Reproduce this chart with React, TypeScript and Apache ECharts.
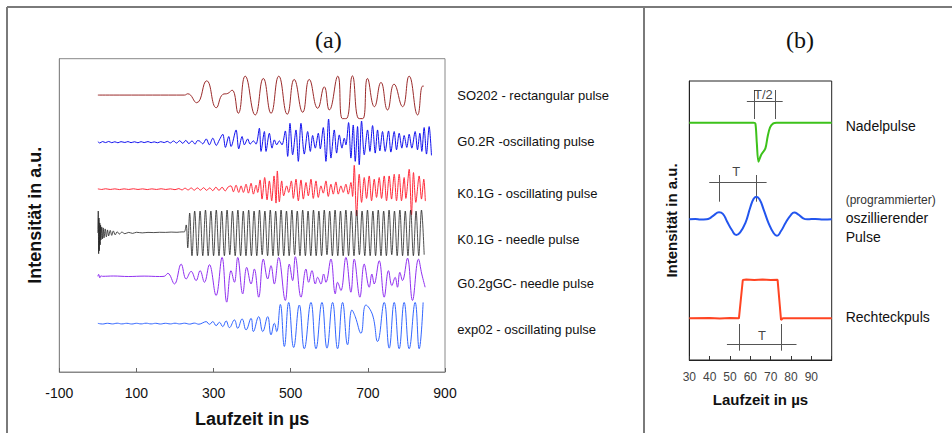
import React, { useEffect, useRef } from "react";
import * as echarts from "echarts";

// ---------- Panel (a) ----------
const traceNamesA = [
  "SO202 - rectangular pulse",
  "G0.2R -oscillating pulse",
  "K0.1G - oscillating pulse",
  "K0.1G - needle pulse",
  "G0.2gGC- needle pulse",
  "exp02 - oscillating pulse",
];
const baselinesA = [278.7, 231.3, 184, 140, 96.3, 48.7];
const colorsA = ["#9a2a2a", "#1010ee", "#ff2a3a", "#222222", "#9030f0", "#3366ff"];
const widthsA = [1, 1, 1, 0.8, 1, 1];

const so202 = [[0,0],[224.5,0],[233,1.3],[256,-7.7],[282,14.3],[307,-12.7],[324,0.7],[337,1.7],[348,5],[364,-18.3],[382,19],[408,-20],[429,16.7],[449,-18.3],[469,19],[491,-19.3],[509,15.7],[531,-17.3],[548,15.7],[570,-13.3],[587,8.3],[600,-15],[622,19],[634,-23.7],[644,-23.7],[660,19.3],[677,-23.7],[687,-23.7],[699,16.7],[717,-11.7],[734,12.7],[751,-15],[768,11],[790,-11.7],[807,19],[829,-20],[842,9],[845,9]];

const g02r = [[0,0.5],[5,-0.8],[12,0.6],[20,-0.4],[28,0.7],[36,-0.5],[44,0.4],[52,-0.6],[60,0.5],[70,-0.3],[78,0.6],[86,-0.5],[95,0.4],[104,-0.6],[112,0.5],[120,-0.4],[130,0.6],[138,-0.5],[146,0.3],[155,-0.6],[163,0.5],[172,-0.4],[180,0.8],[188,-0.8],[196,1.2],[204,-0.9],[212,1.5],[220,-1.2],[228,1.8],[236,-1.5],[244,1.3],[252,-2],[258,1.5],
[263,1.3],[272,-1.7],[281,3.3],[289,-2.7],[298,4],[307,-3.3],[315,2.3],
[323.8,8],[330.7,-5.3],[339.3,5.7],[345.4,-4.3],[358.3,12.3],[365.2,-6.7],[373.9,5.7],[379.9,-2.7],[388.5,3.3],[394.6,-2],[403.2,1.3],[410.1,-2],[418.7,14],[423,-9.3],[431.7,10.7],[436,-9.3],[444.6,9],[451.5,-6],[457.6,2.3],[463.6,-2.7],[470.5,1.3],[477.4,-2.7],[486,11.3],[492.1,-14.3],[498.1,19],[505,-12.7],[513.7,12.3],[519.7,-19.3],[526.6,19],[535.2,-12],[543.9,10.7],[550.8,-9.3],[556.8,6.7],[563.7,-6],[571.5,9],[576.7,-6.7],[584.4,14.7],[591.3,-19.3],[598.2,23.3],[604.3,-16],[612.9,12.3],[619,-11],[625.9,7.3],[632.8,-6],[638.8,4],[643.1,-2.7],[650,19.7],[656,-16],[662.1,17.3],[667.3,-19.3],[673.3,15.7],[677.6,-22.7],[683.7,21.3],[690.6,-12.7],[699.2,12.3],[705.3,-9.3],[712.2,16.7],[719.1,-11],[725.1,12.3],[731.1,-8.7],[738,10.7],[744.9,-9.3],[753.6,11.3],[759.6,-10],[768.3,10.7],[774.3,-7.7],[781.2,9],[788.1,-6],[794.1,6.7],[801,-5.3],[807.1,8],[814,-6],[822.6,10.7],[828.7,-7.7],[834.7,9],[839.9,-9.3],[845.9,14.7],[852,-12],[858.9,15.7],[864.9,-13.3]];

const k01gOsc = [[0,0.3],[10,-0.3],[20,0.4],[32,-0.3],[44,0.3],[56,-0.4],[68,0.3],[80,-0.3],[92,0.4],[104,-0.3],[116,0.3],[128,-0.4],[140,0.3],[152,-0.3],[164,0.4],[176,-0.3],[188,0.3],[200,-0.5],[210,0.6],[218,-0.8],[226,1],[234,-0.8],[242,1.2],[250,-1],[258,1.3],[266,-1],[274,1.5],[282,-1.2],[290,1.3],[298,-1.5],[306,2],[314,-1.3],[322,2],[330,-1.8],[338,2.3],
[345.4,3.3],[351.4,-2.7],[358.3,4],[365.2,-3.3],[371.3,3.3],[377.3,-3.3],[384.2,5],[390.3,-4],[397.2,6],[403.2,-5],[410.1,4],[414.4,-3.3],[420.5,9.3],[425.6,-10],[432.5,11.7],[438.6,-10.7],[444.6,8.3],[450.7,-11.7],[456.7,13.3],[461.9,-14],[465.3,18.3],[470.5,-12.7],[476.6,8.3],[481.7,-6.7],[489.5,3.3],[494.7,-3.3],[501.6,8.3],[506.8,-9.3],[513.7,10],[519.7,-11.7],[526.6,9.3],[532.7,-10],[539.6,6.7],[545.6,-6.7],[552.5,10],[558.5,-9.3],[565.5,8.3],[571.5,-8.3],[578.4,3.3],[584.4,-4],[591.3,8.3],[597.4,-7.3],[604.3,5],[610.3,-5],[617.2,7.3],[623.3,-5],[630.2,3.3],[636.2,-3.3],[643.1,5],[649.2,-5],[656.1,6.7],[660.4,-7.3],[664.7,24],[670.7,-27],[677.6,15],[683.7,-13.3],[690.6,11.7],[696.6,-9.3],[703.5,13.3],[709.6,-11.7],[716.5,10],[722.5,-8.3],[729.4,11.7],[735.5,-9.3],[742.4,13.3],[748.4,-11.7],[755.3,13.3],[761.4,-10],[768.3,15],[774.3,-11.7],[781.2,15],[787.2,-11.7],[794.1,11.7],[798.5,-9.3],[807.1,20],[813.1,-26],[818.3,16.7],[824.4,-13.3],[833,13.3],[839,-10],[845,10],[849,-12]];

const k01gNeedle = [[0,0],[1,22],[2,-21],[3,15],[4,-18],[5,10],[6,-12],[7,8],[8,-7],[10,6],[12,-6],[14,5],[16,-5],[19,4],[22,-4],[25,3],[28,-3],[32,2.5],[36,-2.5],[40,2],[45,-2],[50,1.2],[56,-1.2],[62,0.8],[70,-0.8],[80,0.5],[90,-0.5],[100,0.6],[115,0],[130,0.5],[145,0.3],[160,0.6],[175,0.5],[190,0.8],[205,0.6],[218,1],[224,1],
[229,8],[233,-15],[238,20],[244,-23],[251,22],[258,-23],[265,22],[272,-23],[279,23],[286,-23],[293,22],[300,-23],[307,23],[314,-23],[321,22],[328,-23],[335,23],[342,-22],[349,22],[356,-23],[363,23],[370,-23],[377,22],[384,-23],[391,23],[398,-23],[405,22],[412,-23],[419,23],[426,-22],[433,22],[440,-23],[447,23],[454,-23],[461,22],[468,-23],[475,23],[482,-23],[489,22],[496,-23],[503,23],[510,-22],[517,22],[524,-23],[531,23],[538,-23],[545,22],[552,-23],[559,23],[566,-23],[573,22],[580,-23],[587,23],[594,-22],[601,22],[608,-23],[615,23],[622,-23],[629,22],[636,-23],[643,23],[650,-23],[657,22],[664,-23],[671,23],[678,-22],[685,22],[692,-23],[699,23],[706,-23],[713,22],[720,-23],[727,23],[734,-23],[741,22],[748,-23],[755,23],[762,-22],[769,22],[776,-23],[783,23],[790,-23],[797,22],[804,-23],[811,23],[818,-23],[825,22],[832,-23],[839,23],[846,-22]];

const g02ggc = [[0,0],[2,2],[5,-1.5],[8,0.5],[12,0],[40,0.3],[80,-0.2],[120,0.2],[160,-0.2],[172,0],[181.4,3],[198.6,-7.7],[215.9,12.3],[228.8,-2.7],[241.8,5],[254.7,-4.3],[265.1,5.7],[276.3,-6],[289.2,11.7],[306.5,-19.3],[322,19],[334.1,-26],[345.3,5.7],[354,-6],[362.6,19],[375.5,-17.7],[385.9,9],[397.1,-7.7],[405.7,7.3],[417,-21],[429,17.3],[440.3,-2.7],[448.9,10.7],[457.5,-7.7],[468.7,19],[486,-24.3],[496.4,12.3],[505,-4.3],[511.9,19.7],[526.6,-21],[539.5,7.3],[546.4,-6],[555.1,5.7],[563.7,-7.7],[569.7,-1],[578.3,-7.7],[585.3,2.3],[591.3,-6],[604.2,17.3],[615.5,-17.7],[621.5,-6],[630.1,-14.3],[643.1,19],[656,-16],[664.6,17.3],[679.3,-21],[690.5,12.3],[703.5,-11],[710.4,2.3],[716.4,-7.7],[729.4,15.7],[742.3,-21],[753.5,5.7],[762.2,-9.3],[770.8,-1],[776.8,-11],[782.9,4],[789.8,-4.3],[802.7,18.3],[815.7,-24.3],[831.2,17.3],[839.8,2.3],[848.5,-11]];

const exp02 = [[0,0.3],[12,-0.4],[25,0.3],[38,-0.3],[50,0.4],[62,-0.3],[75,0.3],[88,-0.4],[100,0.3],[112,-0.3],[125,0.4],[138,-0.3],[150,0.3],[162,-0.4],[175,0.3],[188,-0.3],[200,0.4],[212,-0.3],[225,0.4],[238,-0.5],[250,0.5],[262,-0.6],[272,0.8],[280.7,2],[289.3,-0.7],[297.9,2],[306.6,-2],[315.2,1.3],[323.8,-3],[332.4,2.7],[341.1,-4],[354,3.7],[362.6,-4.7],[373.9,4.7],[384.2,-6.3],[397.2,5.3],[403.2,-8],[417,7],[427.4,-8],[440.3,7],[448.9,-11.3],[457.6,0.3],[463.6,-8],[473.1,19.3],[483.5,-23],[494.7,21.3],[507.6,-24],[522.3,18.7],[535.2,-25.3],[552.5,21.3],[565.5,-25.3],[581,21.3],[594,-24.7],[608.6,21.3],[621.5,-25.3],[634.5,21.3],[647.4,-21.3],[658.7,13.7],[667.3,7],[682,-9.7],[694.9,18.7],[712.2,8.7],[725.1,-18],[742.4,21.3],[755.3,-24.7],[768.3,21.3],[781.2,-25.3],[794.1,21.3],[807.1,-25.3],[822.6,21.3],[833,-25.3],[843.3,21.3]];

const tracesA = [so202, g02r, k01gOsc, k01gNeedle, g02ggc, exp02];
const smoothA = [0.5, 0.3, 0.3, 0.35, 0.4, 0.45];

// ---------- Panel (b) ----------
const namesB = ["Nadelpulse", "oszillierender Pulse", "Rechteckpuls"];
const baselinesB = [237.3, 140.7, 41.7];
const colorsB = ["#3dc21b", "#2255ee", "#ff4422"];
const nadel = [[30,0],[61.6,0],[62.5,-1],[63.2,-20.7],[64,-39],[65.3,-32.3],[67.4,-25.7],[68.5,-14],[69.7,-4.7],[71.3,-0.7],[72.9,0],[100,0]];
const oszill = [[30,0],[33,0.4],[35.5,-0.3],[38.5,0],[40,1],[42,4],[44.6,7],[46.5,5.5],[48.5,-2],[51,-11],[53.1,-15.7],[55,-13],[57.5,-4],[60,12],[61.5,20],[62.9,22.6],[64.5,20],[66.5,10],[69,-4],[71.5,-14],[73.1,-16.5],[75,-12],[77.5,-3],[80,4.5],[81.6,6.7],[83.5,5],[86,1],[88,0],[92,0.4],[96,-0.2],[100,0]];
const rechteck = [[30,0],[40,0.3],[45,-0.3],[50,0.3],[54.4,0],[56.3,38.3],[58,38.8],[62,38.3],[66,38.7],[70,38.3],[73.4,38.5],[75.1,-1.7],[76,0],[100,0]];
const tracesB = [nadel, oszill, rechteck];
const smoothB = [0.3, 0.5, false];

const bracketsB = [
  [[58.3, 259], [75.9, 259]], [[61.7, 270], [61.7, 241]], [[72.1, 270], [72.1, 241]],
  [[39.8, 177.3], [68, 177.3]], [[44.6, 185], [44.6, 158.3]], [[62.9, 185], [62.9, 158.3]],
  [[48.5, 15.7], [82.7, 15.7]], [[54.7, 36], [54.7, 9.3]], [[75.4, 36], [75.4, 9.3]],
];
const bracketLabelsB = [
  { name: "T/2", value: [66.4, 265.7] },
  { name: "T", value: [53.1, 188.3] },
  { name: "T", value: [65.7, 25] },
];

const SANS = '"Liberation Sans", Arial, sans-serif';
const SERIF = '"Liberation Serif", "Times New Roman", serif';

function txt(text: string, x: number, y: number, font: string, fill = "#111", align = "left") {
  return {
    type: "text",
    x,
    y,
    silent: true,
    style: { text, font, fill, textAlign: align, align, textVerticalAlign: "middle", verticalAlign: "middle" },
  };
}
function ln(x1: number, y1: number, x2: number, y2: number) {
  return { type: "line", silent: true, shape: { x1, y1, x2, y2 }, style: { stroke: "#7a7a7a", lineWidth: 2 } };
}

export default function App() {
  const ref = useRef<HTMLDivElement>(null);
  useEffect(() => {
    const chart = echarts.init(ref.current!, null, { renderer: "svg" });
    const seriesA = tracesA.map((pts, i) => ({
      type: "line",
      name: traceNamesA[i],
      xAxisIndex: 0,
      yAxisIndex: 0,
      data: pts.map(([t, a]) => [t, baselinesA[i] + a]),
      symbol: "none",
      smooth: smoothA[i],
      lineStyle: { color: colorsA[i], width: widthsA[i] },
      silent: true,
    }));
    const seriesB = tracesB.map((pts, i) => ({
      type: "line",
      name: namesB[i],
      xAxisIndex: 1,
      yAxisIndex: 1,
      data: pts.map(([t, a]) => [t, baselinesB[i] + a]),
      symbol: "none",
      smooth: smoothB[i],
      lineStyle: { color: colorsB[i], width: 2 },
      silent: true,
    }));
    const option: any = {
      animation: false,
      backgroundColor: "#ffffff",
      grid: [
        { left: 59.3, top: 58.7, width: 385.7, height: 315.3, show: true, borderColor: "#888", borderWidth: 1, backgroundColor: "transparent" },
        { left: 689.3, top: 81, width: 142.4, height: 279, show: true, borderColor: "#222", borderWidth: 1, backgroundColor: "transparent" },
      ],
      xAxis: [
        {
          gridIndex: 0, type: "value", min: -100, max: 900, interval: 200,
          axisLine: { show: true, onZero: false, lineStyle: { color: "#888" } },
          axisTick: { show: true, inside: true, length: 4, lineStyle: { color: "#666" } },
          axisLabel: { color: "#111", fontSize: 14, fontFamily: SANS, margin: 14 },
          splitLine: { show: false },
          name: "Laufzeit in µs", nameLocation: "middle", nameGap: 38,
          nameTextStyle: { fontSize: 18, fontWeight: "bold", color: "#111", fontFamily: SANS },
        },
        {
          gridIndex: 1, type: "value", min: 30, max: 100, interval: 10,
          axisLine: { show: true, onZero: false, lineStyle: { color: "#222" } },
          axisTick: { show: true, inside: true, length: 4, lineStyle: { color: "#333" } },
          axisLabel: { color: "#444", fontSize: 12, fontFamily: SANS, margin: 11, formatter: (v: number) => (v === 100 ? "" : String(v)) },
          splitLine: { show: false },
          name: "Laufzeit in µs", nameLocation: "middle", nameGap: 32,
          nameTextStyle: { fontSize: 15, fontWeight: "bold", color: "#111", fontFamily: SANS },
        },
      ],
      yAxis: [
        {
          gridIndex: 0, type: "value", min: 0, max: 315.3,
          axisLine: { show: true, onZero: false, lineStyle: { color: "#888" } },
          axisTick: { show: false }, axisLabel: { show: false }, splitLine: { show: false },
          name: "Intensität in a.u.", nameLocation: "middle", nameGap: 15, nameRotate: 90,
          nameTextStyle: { fontSize: 18, fontWeight: "bold", color: "#111", fontFamily: SANS },
        },
        {
          gridIndex: 1, type: "value", min: 0, max: 279,
          axisLine: { show: true, onZero: false, lineStyle: { color: "#222" } },
          axisTick: { show: false }, axisLabel: { show: false }, splitLine: { show: false },
          name: "Intensität in a.u.", nameLocation: "middle", nameGap: 10, nameRotate: 90,
          nameTextStyle: { fontSize: 15, fontWeight: "bold", color: "#111", fontFamily: SANS },
        },
      ],
      series: [
        ...seriesA,
        ...seriesB,
        {
          type: "lines",
          coordinateSystem: "cartesian2d",
          xAxisIndex: 1,
          yAxisIndex: 1,
          silent: true,
          lineStyle: { color: "#555", width: 1, opacity: 1 },
          data: bracketsB.map((c) => ({ coords: c })),
        },
        {
          type: "scatter",
          xAxisIndex: 1,
          yAxisIndex: 1,
          silent: true,
          symbolSize: 0,
          data: bracketLabelsB,
          label: { show: true, position: "inside", formatter: "{b}", color: "#111", fontSize: 13, fontFamily: SANS },
        },
      ],
      graphic: [
        ln(7, 7, 952, 7),
        ln(7, 7, 7, 433),
        ln(644, 7, 644, 433),
        txt("(a)", 328.3, 40, `24px ${SERIF}`, "#111", "center"),
        txt("(b)", 800, 40, `24px ${SERIF}`, "#111", "center"),
        txt(traceNamesA[0], 457.3, 95, `13px ${SANS}`),
        txt(traceNamesA[1], 457.3, 141, `13px ${SANS}`),
        txt(traceNamesA[2], 457.3, 193.3, `13px ${SANS}`),
        txt(traceNamesA[3], 457.3, 239, `13px ${SANS}`),
        txt(traceNamesA[4], 457.3, 283.3, `13px ${SANS}`),
        txt(traceNamesA[5], 457.3, 329, `13px ${SANS}`),
        txt("Nadelpulse", 845.7, 126, `14px ${SANS}`),
        txt("(programmierter)", 845.7, 200.3, `12px ${SANS}`, "#333"),
        txt("oszillierender", 845.7, 218.3, `14px ${SANS}`),
        txt("Pulse", 845.7, 236.7, `14px ${SANS}`),
        txt("Rechteckpuls", 845.7, 317.3, `14px ${SANS}`),
      ],
    };
    chart.setOption(option);
    return () => chart.dispose();
  }, []);
  return (
    <div
      ref={ref}
      style={{ position: "fixed", left: 0, top: 0, width: 952, height: 433, background: "#fff" }}
    />
  );
}
